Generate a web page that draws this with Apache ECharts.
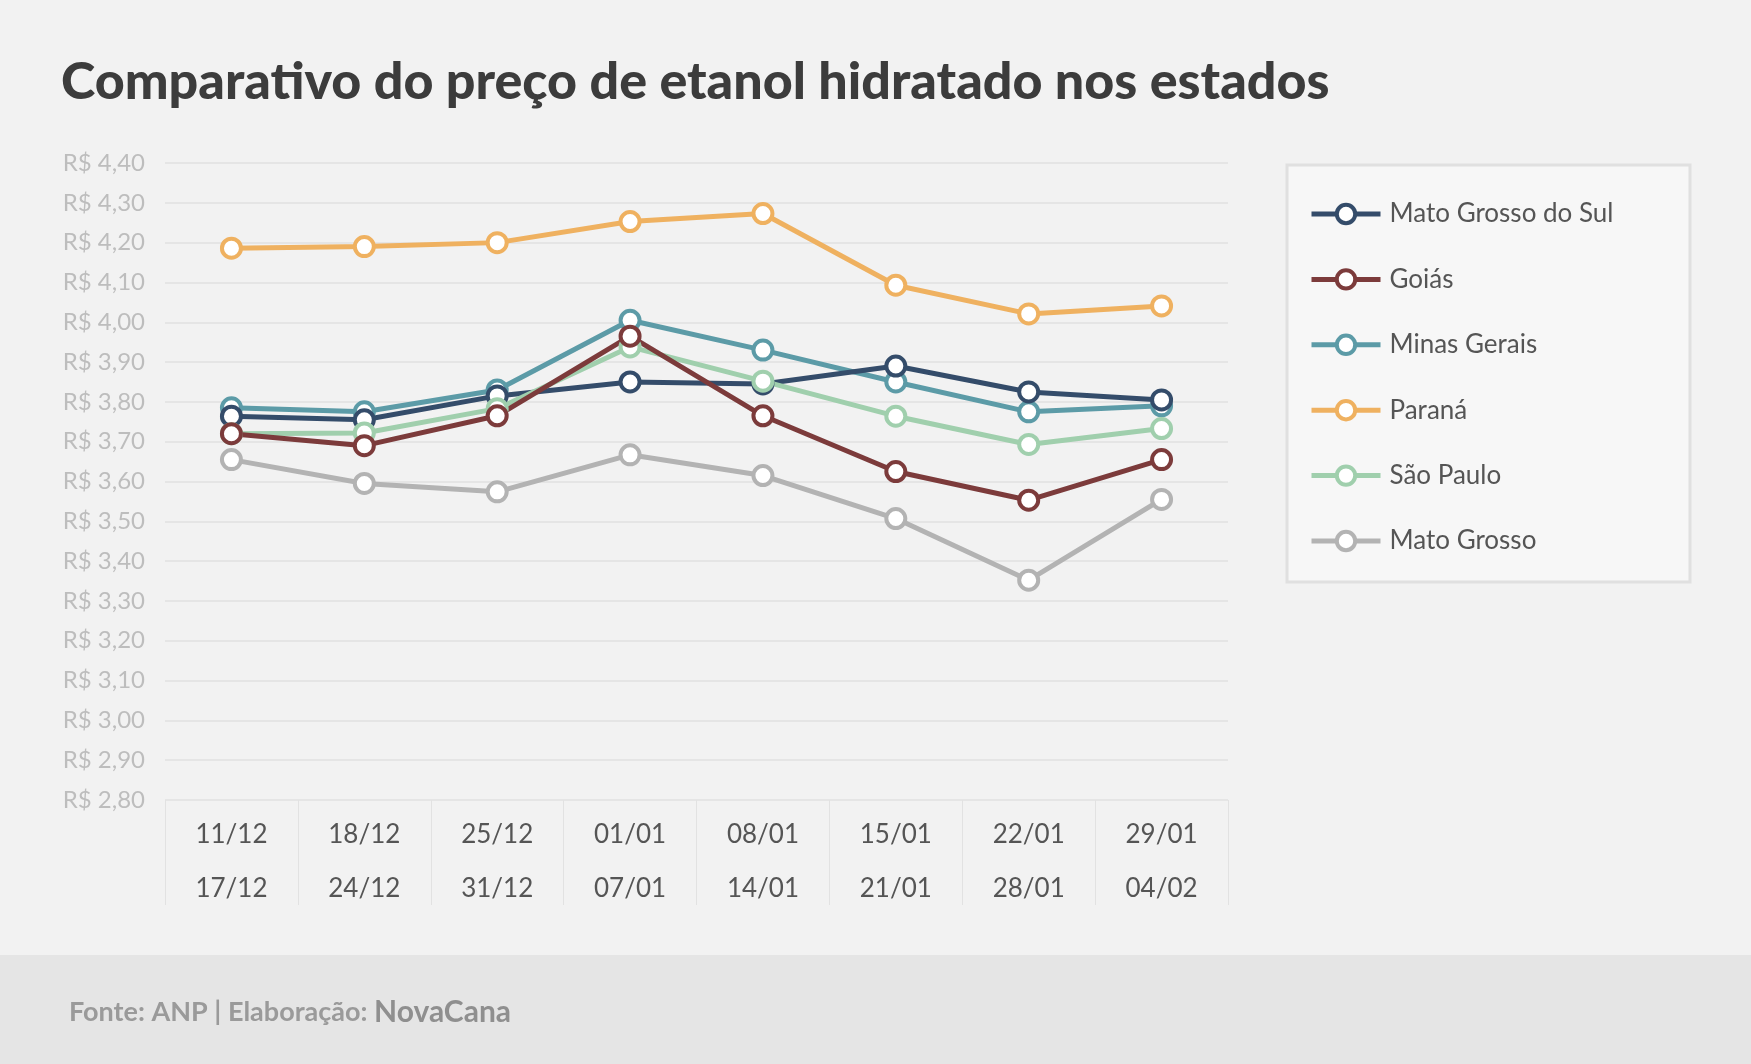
<!DOCTYPE html>
<html>
<head>
<meta charset="utf-8">
<script src="https://cdn.jsdelivr.net/npm/echarts@6/dist/echarts.min.js"></script>
<style>
  html, body { margin: 0; padding: 0; background: #f2f2f2; }
  #chart { width: 1751px; height: 1064px; }
</style>
</head>
<body>
<div id="chart"></div>
<script>
// semanas (início / fim)
const weekStart = ['11/12', '18/12', '25/12', '01/01', '08/01', '15/01', '22/01', '29/01'];
const weekEnd = ['17/12', '24/12', '31/12', '07/01', '14/01', '21/01', '28/01', '04/02'];

// preços médios (R$/litro)
const matoGrossoDoSul = [3.764, 3.755, 3.815, 3.850, 3.845, 3.890, 3.825, 3.805];
const goias = [3.720, 3.690, 3.765, 3.965, 3.765, 3.625, 3.553, 3.655];
const minasGerais = [3.785, 3.775, 3.830, 4.005, 3.930, 3.850, 3.775, 3.790];
const parana = [4.186, 4.190, 4.200, 4.253, 4.273, 4.093, 4.021, 4.041];
const saoPaulo = [3.720, 3.722, 3.783, 3.938, 3.852, 3.764, 3.693, 3.733];
const matoGrosso = [3.655, 3.595, 3.574, 3.667, 3.615, 3.507, 3.352, 3.555];

const legendOrder = ['Mato Grosso do Sul', 'Goiás', 'Minas Gerais', 'Paraná', 'São Paulo', 'Mato Grosso'];

let myChart = echarts.init(document.getElementById('chart'));

function lineSerie(name, data, color) {
  return {
    name: name,
    type: 'line',
    data: data,
    symbol: 'circle',
    symbolSize: 19,
    lineStyle: { color: color, width: 5 },
    itemStyle: { color: '#fff', borderColor: color, borderWidth: 4 }
  };
}

var option = {
  backgroundColor: '#f2f2f2',
  textStyle: { fontFamily: 'Lato' },
  animation: false,
  title: [{
    text: 'Comparativo do preço de etanol hidratado nos estados',
    left: 56,
    top: 51,
    textStyle: { fontFamily: 'Lato', fontWeight: 900, fontSize: 52, color: '#3c3c3c' }
  }, {
    text: '{a|Fonte: ANP | Elaboração: }{b|NovaCana}',
    left: 64,
    top: 992,
    textStyle: {
      rich: {
        a: { fontFamily: 'Lato', fontWeight: 'bold', fontSize: 27, color: '#9a9a9a' },
        b: { fontFamily: 'Lato', fontWeight: 'bold', fontSize: 30, color: '#8f8f8f' }
      }
    }
  }],
  graphic: [{
    type: 'rect',
    z: -10,
    shape: { x: 0, y: 955, width: 1751, height: 109 },
    style: { fill: '#e5e5e5' }
  }, {
    type: 'rect',
    z: -10,
    shape: { x: 1287, y: 165, width: 403, height: 417 },
    style: { fill: '#f7f7f7', stroke: '#e0e0e0', lineWidth: 3 }
  }],
  grid: {
    left: 165,
    top: 163,
    width: 1063,
    height: 637
  },
  legend: {
    orient: 'vertical',
    left: 1309,
    top: 201,
    padding: 0,
    itemWidth: 69,
    itemHeight: 23,
    itemGap: 39.4,
    data: legendOrder,
    lineStyle: { width: 5 },
    itemStyle: { borderWidth: 4 },
    textStyle: { fontFamily: 'Lato', fontSize: 26, color: '#555', padding: [0, 0, 0, 4] }
  },
  xAxis: {
    type: 'category',
    boundaryGap: true,
    data: weekStart.map((s, i) => s + '\n' + weekEnd[i]),
    axisLine: { show: false },
    axisTick: {
      show: true,
      interval: 0,
      length: 105,
      lineStyle: { color: '#e2e2e2', width: 1 }
    },
    axisLabel: {
      interval: 0,
      margin: 8,
      fontFamily: 'Lato',
      fontSize: 26,
      lineHeight: 54,
      color: '#555'
    }
  },
  yAxis: {
    type: 'value',
    min: 2.8,
    max: 4.4,
    interval: 0.1,
    axisLine: { show: false },
    axisTick: { show: false },
    axisLabel: {
      margin: 20,
      fontFamily: 'Lato',
      fontSize: 24,
      color: '#bdbdbd',
      formatter: function (v) {
        return 'R$ ' + v.toFixed(2).replace('.', ',');
      }
    },
    splitLine: { show: true, lineStyle: { color: '#e0e0e0', width: 1.5 } }
  },
  // ordem de desenho (as últimas ficam por cima)
  series: [
    lineSerie('Mato Grosso', matoGrosso, '#b3b3b3'),
    lineSerie('Paraná', parana, '#efb160'),
    lineSerie('Minas Gerais', minasGerais, '#5c9ba7'),
    lineSerie('Mato Grosso do Sul', matoGrossoDoSul, '#344c6a'),
    lineSerie('São Paulo', saoPaulo, '#a0cfad'),
    lineSerie('Goiás', goias, '#7c3b3b')
  ]
};
myChart.setOption(option);
</script>
</body>
</html>
